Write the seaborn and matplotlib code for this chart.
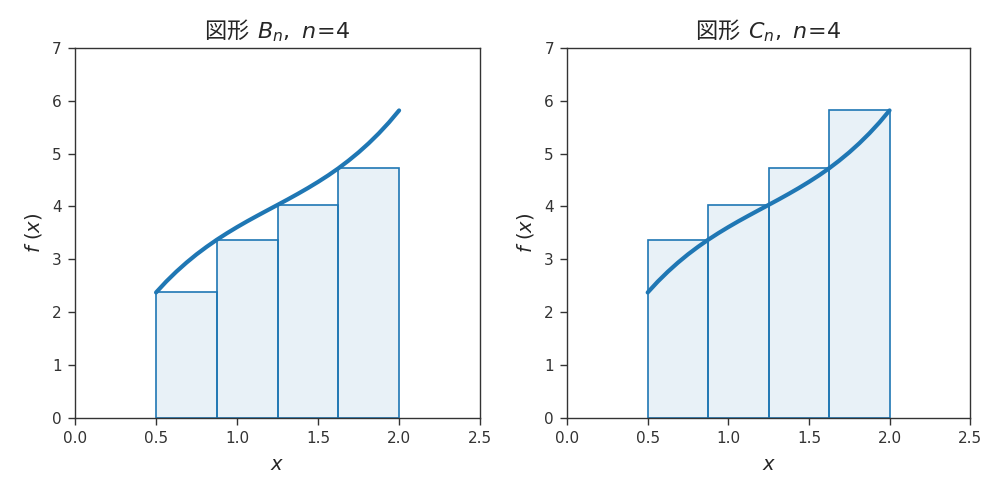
import matplotlib
matplotlib.use("Agg")
import matplotlib.pyplot as plt
import seaborn as sns

# 曲線 f(x) を図から読み取った値 (x = 0.5 .. 2.0, 0.0625 刻み)
curve_x = [0.5, 0.5625, 0.625, 0.6875, 0.75, 0.8125, 0.875, 0.9375, 1.0,
           1.0625, 1.125, 1.1875, 1.25, 1.3125, 1.375, 1.4375, 1.5,
           1.5625, 1.625, 1.6875, 1.75, 1.8125, 1.875, 1.9375, 2.0]
curve_y = [2.374, 2.580, 2.767, 2.938, 3.095, 3.238, 3.371, 3.494, 3.610,
           3.720, 3.825, 3.928, 4.030, 4.133, 4.239, 4.349, 4.465,
           4.588, 4.721, 4.866, 5.023, 5.195, 5.383, 5.589, 5.816]

# 長方形の区切りと高さ
edges = [0.5, 0.875, 1.25, 1.625, 2.0]
heights_B = [2.374, 3.371, 4.030, 4.721]   # 左端の値
heights_C = [3.371, 4.030, 4.721, 5.816]   # 右端の値

# 数式部分は mathtext (DejaVu), 漢字は Noto Sans CJK JP で描く
panels = [("図形 $\\,B_n,\\ n\\!=\\!\\mathrm{4}$", heights_B),
          ("図形 $\\,C_n,\\ n\\!=\\!\\mathrm{4}$", heights_C)]

sns.set_style("white")
plt.rcParams["font.family"] = ["DejaVu Sans", "Noto Sans CJK JP"]
plt.rcParams["axes.unicode_minus"] = False

fig = plt.figure(figsize=(9.94, 4.88), dpi=100)
axes = [fig.add_axes([0.0755, 0.1434, 0.4075, 0.7586]),
        fig.add_axes([0.5705, 0.1434, 0.4055, 0.7586])]

blue = sns.color_palette()[0]
mids = [(edges[i] + edges[i + 1]) / 2 for i in range(len(edges) - 1)]

for ax, (title, heights) in zip(axes, panels):
    sns.histplot(x=mids, weights=heights, bins=edges, ax=ax,
                 stat="count", element="bars",
                 facecolor=(*blue, 0.1), edgecolor=blue, linewidth=1.2)
    sns.lineplot(x=curve_x, y=curve_y, ax=ax, color=blue, linewidth=3,
                 sort=False)
    ax.set_xlim(0, 2.5)
    ax.set_ylim(0, 7)
    ax.set_xticks([0.0, 0.5, 1.0, 1.5, 2.0, 2.5])
    ax.set_xticklabels(["0.0", "0.5", "1.0", "1.5", "2.0", "2.5"])
    ax.set_yticks(range(8))
    ax.set_yticklabels([str(i) for i in range(8)])
    ax.tick_params(axis="both", labelsize=11, length=5, width=1, pad=4.5,
                   direction="out", bottom=True, left=True, colors="#333333")
    for s in ax.spines.values():
        s.set_color("#333333")
        s.set_linewidth(1)
    ax.set_title(title, fontsize=16, pad=7,
                 family=["Noto Sans CJK JP", "DejaVu Sans"])
    ax.set_xlabel("$x$", fontsize=14, labelpad=6)
    ax.set_ylabel("$f\\ (x)$", fontsize=14, labelpad=6)

fig.savefig("out.png", dpi=100)
